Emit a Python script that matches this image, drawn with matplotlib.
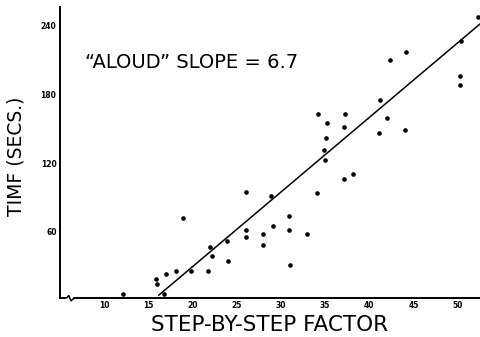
import matplotlib
matplotlib.use("Agg")
import matplotlib.pyplot as plt

# step-by-step factor vs. time (secs)
step_factor = [12.1, 15.9, 16.0, 16.8, 17.0, 18.1, 18.9, 19.8, 21.8, 22.0,
               22.2, 23.9, 24.0, 26.0, 26.0, 26.0, 28.0, 28.0, 28.9, 29.1,
               30.9, 30.9, 31.0, 33.0, 34.1, 34.2, 34.9, 35.0, 35.1, 35.2,
               37.1, 37.2, 37.1, 38.1, 41.2, 42.0, 41.1, 42.3, 44.1, 44.0,
               50.2, 50.2, 50.3, 52.3]
time_secs = [6, 19, 15, 6, 23, 26, 72, 26, 26, 47,
             39, 52, 35, 62, 56, 95, 58, 49, 91, 65,
             74, 62, 31, 58, 94, 163, 131, 123, 142, 155,
             151, 163, 106, 110, 175, 159, 146, 210, 217, 149,
             196, 188, 226, 247]

# fitted "aloud" line, slope 6.7
fit_x = [16.2, 52.5]
fit_y = [5, 241]

xticks = [10, 15, 20, 25, 30, 35, 40, 45, 50]
yticks = [60, 120, 180, 240]

fig = plt.figure(figsize=(4.8, 3.37), dpi=100)
ax = fig.add_axes((0.125, 0.116, 0.875, 0.863))

ax.scatter(step_factor, time_secs, s=11, color="black", linewidths=0, zorder=3)
ax.plot(fit_x, fit_y, color="black", linewidth=1.1)

ax.set_xlim(5.03, 52.5)
ax.set_ylim(2.6, 255.7)
ax.set_xticks(xticks)
ax.set_yticks(yticks)
ax.tick_params(length=0, labelsize=5.5, pad=2.5)
for lab in ax.get_xticklabels() + ax.get_yticklabels():
    lab.set_fontweight("bold")

for s in ("top", "right"):
    ax.spines[s].set_visible(False)
for s in ("left", "bottom"):
    ax.spines[s].set_linewidth(1.4)

# axis break squiggle near the origin
tr = ax.transAxes
ax.plot([0.017, 0.023, 0.027], [0.0, 0.0, 0.0], color="white", linewidth=2.5,
        transform=tr, clip_on=False, zorder=4)
ax.plot([0.016, 0.021, 0.026, 0.031, 0.036],
        [0.0, 0.008, -0.010, -0.004, 0.0],
        color="black", linewidth=1.1, transform=tr, clip_on=False, zorder=5)

ax.set_xlabel("STEP-BY-STEP FACTOR", fontsize=15.5, labelpad=3)
ax.set_ylabel("TIMF (SECS.)", fontsize=13.5)
ax.yaxis.set_label_coords(-0.083, 0.488)

ax.text(0.06, 0.811, "\u201cALOUD\u201d SLOPE = 6.7", transform=tr,
        fontsize=14, ha="left", va="center")

fig.savefig("out.png", dpi=100)
